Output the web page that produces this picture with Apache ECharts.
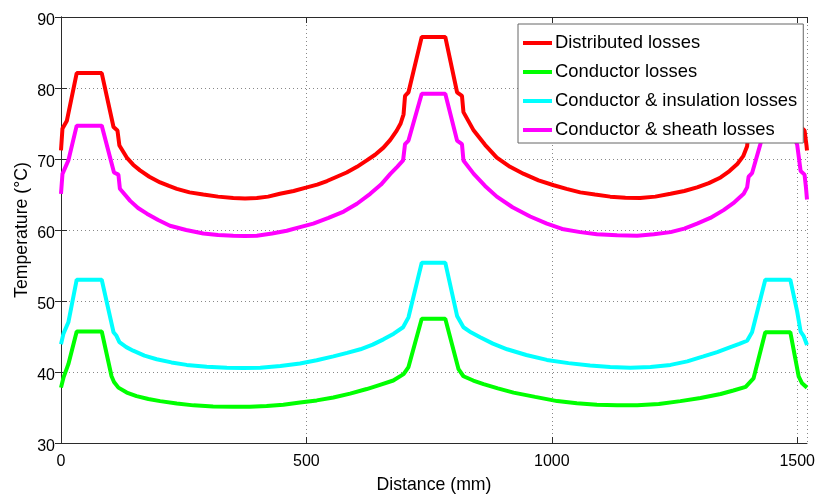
<!DOCTYPE html>
<html>
<head>
<meta charset="utf-8">
<script src="https://cdn.jsdelivr.net/npm/echarts@6/dist/echarts.min.js"></script>
<style>html,body{margin:0;padding:0;background:#fff;}#c{width:818px;height:495px;}</style>
</head>
<body>
<div id="c"></div>
<script>
var seriesNames = ['Distributed losses', 'Conductor losses', 'Conductor & insulation losses', 'Conductor & sheath losses'];
var seriesColors = ['#ff0000', '#00ff00', '#00ffff', '#ff00ff'];
var xTicks = [0, 500, 1000, 1500];
var yTicks = [30, 40, 50, 60, 70, 80, 90];

var distX = [0,3,12,32,83,107,115,119,134,147,161,180,202,220,236,262,290,320,351,375,399,422,446,474,501,522,542,562,582,603,623,640,657,671,684,692,698,701,708,735,783,807,817,820,841,864,888,915,943,973,1004,1030,1058,1088,1119,1150,1180,1211,1242,1270,1296,1320,1344,1362,1378,1390,1398,1401,1408,1435,1484,1507,1515,1519,1520];
var distT = [71.2,74.3,75.4,82.1,82.1,74.5,74.0,71.9,70.2,69.2,68.4,67.5,66.7,66.2,65.8,65.3,65.0,64.7,64.5,64.45,64.5,64.7,65.1,65.5,66.0,66.4,66.9,67.5,68.1,68.9,69.8,70.6,71.6,72.7,74.0,75.0,76.3,78.9,79.4,87.2,87.2,79.4,78.9,76.6,74.0,72.0,70.2,68.9,67.9,67.0,66.3,65.8,65.3,65.0,64.7,64.55,64.5,64.7,65.1,65.5,66.0,66.6,67.4,68.3,69.3,70.4,71.8,74.0,74.6,82.1,82.1,74.5,74.0,71.9,71.2];

var condX = [0,5,15,32,83,103,108,117,134,154,178,202,236,270,310,351,385,419,453,487,521,555,589,623,650,677,698,708,735,783,810,820,840,861,890,922,966,1011,1051,1092,1133,1174,1218,1262,1303,1344,1370,1395,1411,1435,1486,1503,1510,1520];
var condT = [37.8,39.2,41.1,45.7,45.7,39.4,38.6,37.8,37.1,36.6,36.2,35.9,35.55,35.3,35.15,35.1,35.1,35.2,35.4,35.7,36.0,36.4,36.95,37.6,38.2,38.8,39.7,40.7,47.5,47.5,40.4,39.4,38.8,38.3,37.7,37.1,36.5,35.9,35.6,35.4,35.3,35.3,35.5,35.9,36.35,36.9,37.4,37.9,39.1,45.6,45.6,39.4,38.4,37.8];

var insX = [0,5,15,32,83,107,113,119,133,147,170,195,225,256,297,338,372,406,447,487,521,555,583,610,635,657,678,697,708,735,783,807,820,836,854,880,909,948,990,1034,1078,1119,1160,1201,1242,1276,1309,1337,1364,1382,1398,1408,1435,1486,1500,1507,1513,1520];
var insT = [43.9,45.4,47.0,53.0,53.0,45.6,45.1,44.2,43.5,43.0,42.3,41.8,41.35,41.0,40.75,40.6,40.55,40.6,40.85,41.2,41.65,42.2,42.7,43.2,43.85,44.6,45.4,46.3,47.7,55.4,55.4,47.9,46.3,45.55,44.9,44.0,43.2,42.4,41.7,41.25,40.9,40.7,40.6,40.7,41.0,41.5,42.2,42.8,43.5,43.95,44.4,45.6,53.0,53.0,48.5,45.7,45.1,43.8];

var shX = [0,3,15,32,83,108,117,120,141,157,175,198,222,255,290,320,351,375,399,430,460,487,514,545,576,603,630,652,671,685,697,701,708,735,783,807,817,820,841,864,888,920,956,990,1024,1058,1092,1133,1174,1208,1242,1270,1296,1323,1350,1372,1391,1398,1401,1408,1425,1435,1484,1500,1507,1515,1518,1520];
var shT = [65.1,67.9,69.8,74.7,74.7,68.1,67.8,65.8,64.1,63.1,62.3,61.4,60.6,60.0,59.5,59.3,59.2,59.15,59.2,59.5,59.9,60.4,60.9,61.7,62.6,63.7,65.1,66.4,67.9,68.9,69.8,72.1,72.6,79.2,79.2,72.6,72.1,69.8,67.9,66.2,64.7,63.2,61.9,60.9,60.1,59.7,59.4,59.25,59.2,59.4,59.7,60.2,60.9,61.7,62.8,63.9,65.1,66.0,67.5,68.0,72.1,74.7,74.7,72.0,68.3,67.8,65.9,64.3];

function pairs(xs, ys) { return xs.map(function (x, i) { return [x, ys[i]]; }); }
var allData = [pairs(distX, distT), pairs(condX, condT), pairs(insX, insT), pairs(shX, shT)];

var FONT = 'Liberation Sans';
var axisCol = '#2b2b2b';
var chart = echarts.init(document.getElementById('c'), null, {renderer: 'canvas'});
var option = {
  animation: false,
  backgroundColor: '#ffffff',
  grid: {left: 61, right: 11, top: 17, bottom: 52, outerBoundsMode: 'none', containLabel: false},
  legend: {
    orient: 'vertical',
    left: 518, top: 24,
    data: seriesNames.map(function (n) { return {name: n, icon: 'rect'}; }),
    itemWidth: 29, itemHeight: 4, itemGap: 7,
    padding: [8, 6, 2, 5],
    backgroundColor: '#ffffff',
    borderColor: '#666666', borderWidth: 1,
    textStyle: {fontFamily: FONT, fontSize: 18.4, color: '#000', lineHeight: 22, padding: [0, 0, 0, -2]}
  },
  xAxis: [{
    type: 'value', min: 0, max: 1520, interval: 500,
    name: 'Distance (mm)', nameLocation: 'middle', nameGap: 33, nameMoveOverlap: false,
    nameTextStyle: {fontFamily: FONT, fontSize: 17.7, color: '#000'},
    axisLine: {show: true, lineStyle: {color: axisCol, width: 1}},
    axisTick: {show: true, inside: true, length: 6, lineStyle: {color: axisCol}},
    axisLabel: {fontFamily: FONT, fontSize: 16, color: '#000', margin: 11, showMaxLabel: false,
      formatter: function (v) { return xTicks.indexOf(v) >= 0 ? String(v) : ''; }},
    splitLine: {show: true, lineStyle: {color: '#888', type: [1, 3], width: 1}}
  }, {
    type: 'value', min: 0, max: 1520, interval: 500, position: 'top',
    axisLine: {show: true, lineStyle: {color: axisCol, width: 1}},
    axisTick: {show: true, inside: true, length: 6, lineStyle: {color: axisCol}},
    axisLabel: {show: false}, splitLine: {show: false}
  }],
  yAxis: [{
    type: 'value', min: 30, max: 90, interval: 10,
    name: 'Temperature (°C)', nameLocation: 'middle', nameGap: 30, nameMoveOverlap: false,
    nameTextStyle: {fontFamily: FONT, fontSize: 17.7, color: '#000'},
    axisLine: {show: true, lineStyle: {color: axisCol, width: 1}},
    axisTick: {show: true, inside: true, length: 6, lineStyle: {color: axisCol}},
    axisLabel: {fontFamily: FONT, fontSize: 16, color: '#000', margin: 6,
      formatter: function (v) { return yTicks.indexOf(v) >= 0 ? '{a|' + v + '}' : ''; },
      rich: {a: {fontFamily: FONT, fontSize: 16, color: '#000', padding: [7, 0, 0, 0]}}},
    splitLine: {show: true, lineStyle: {color: '#888', type: [1, 3], width: 1}}
  }, {
    type: 'value', min: 30, max: 90, interval: 10, position: 'right',
    axisLine: {show: true, lineStyle: {color: axisCol, width: 1}},
    axisTick: {show: true, inside: true, length: 6, lineStyle: {color: axisCol}},
    axisLabel: {show: false}, splitLine: {show: false}
  }],
  series: seriesNames.map(function (n, i) {
    return {
      name: n, type: 'line', data: allData[i], xAxisIndex: 0, yAxisIndex: 0,
      showSymbol: false, symbol: 'none', smooth: false,
      lineStyle: {color: seriesColors[i], width: 4},
      itemStyle: {color: seriesColors[i]}
    };
  })
};
chart.setOption(option);
</script>
</body>
</html>
